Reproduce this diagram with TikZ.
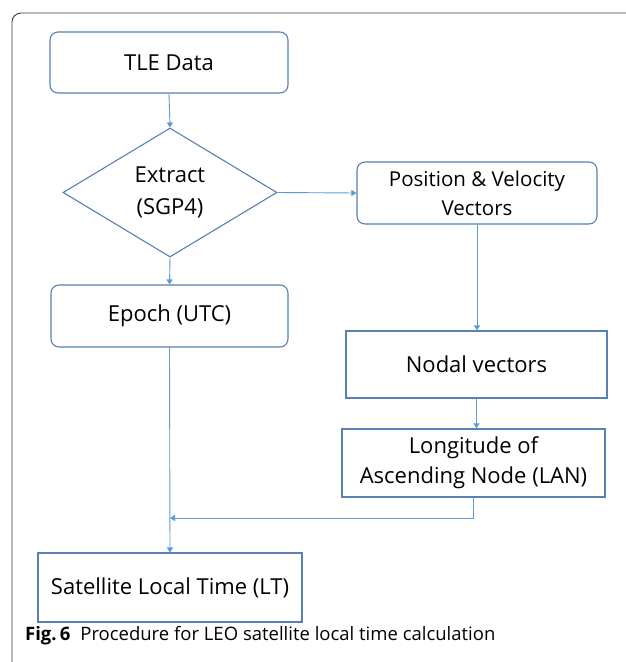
\documentclass[tikz,border=0pt]{standalone}
\usepackage{fontspec}
\setmainfont{Open Sans}
\usetikzlibrary{shapes.geometric,arrows.meta}
\definecolor{boxblue}{RGB}{88,128,178}
\definecolor{arrblue}{RGB}{91,155,213}
\definecolor{framegray}{RGB}{60,60,60}
\begin{document}
\begin{tikzpicture}[x=1pt,y=-1pt,
  box/.style={draw=boxblue,line width=1.1pt,inner sep=0pt,align=center,text=black,font=\fontsize{22}{30}\selectfont},
  rbox/.style={box,rounded corners=8pt},
  arr/.style={draw=arrblue,line width=0.9pt,-{Triangle[width=6pt,length=5pt]}},
]
\useasboundingbox (0,0) rectangle (625,662);
\draw[framegray,line width=0.9pt,rounded corners=9pt] (12,662) -- (12,13) -- (626,13);

\node[rbox,minimum width=238pt,minimum height=61pt] (tle) at (169,62.5) {TLE Data};
\node[box,diamond,minimum width=214pt,minimum height=129pt,aspect=1.66,font=\fontsize{22}{32}\selectfont] (ext) at (170,192.5) {Extract\\(SGP4)};
\node[rbox,minimum width=240pt,minimum height=62pt,font=\fontsize{20.5}{29}\selectfont] (pos) at (477,193) {Position \& Velocity\\Vectors};
\node[rbox,minimum width=237pt,minimum height=62pt] (epoch) at (169.5,316) {Epoch (UTC)};
\node[box,minimum width=261pt,minimum height=67pt] (nodal) at (476.5,364.5) {Nodal vectors};
\node[box,minimum width=263pt,minimum height=68pt] (lan) at (473.5,463) {Longitude of\\Ascending Node (LAN)};
\node[box,minimum width=264pt,minimum height=69pt] (sat) at (170,587.5) {Satellite Local Time (LT)};
\coordinate (j) at (170,518);

\draw[arr] (tle.south) -- (ext.north);
\draw[arr] (ext.south) -- (epoch.north);
\draw[arr] (ext.east) -- (pos.west);
\draw[arr] (pos.south) -- (pos.south |- nodal.north);
\draw[arr] (nodal.south) -- (nodal.south |- lan.north);
\draw[arr] (epoch.south) -- (sat.north);
\draw[arr] (lan.south) |- (j);

\node[anchor=base west,inner sep=0pt,font=\fontsize{18.5}{22}\selectfont] (cap) at (25,640) {\textbf{Fig.\,6}\hspace{10pt}Procedure for LEO satellite local time calculation};
\end{tikzpicture}
\end{document}
